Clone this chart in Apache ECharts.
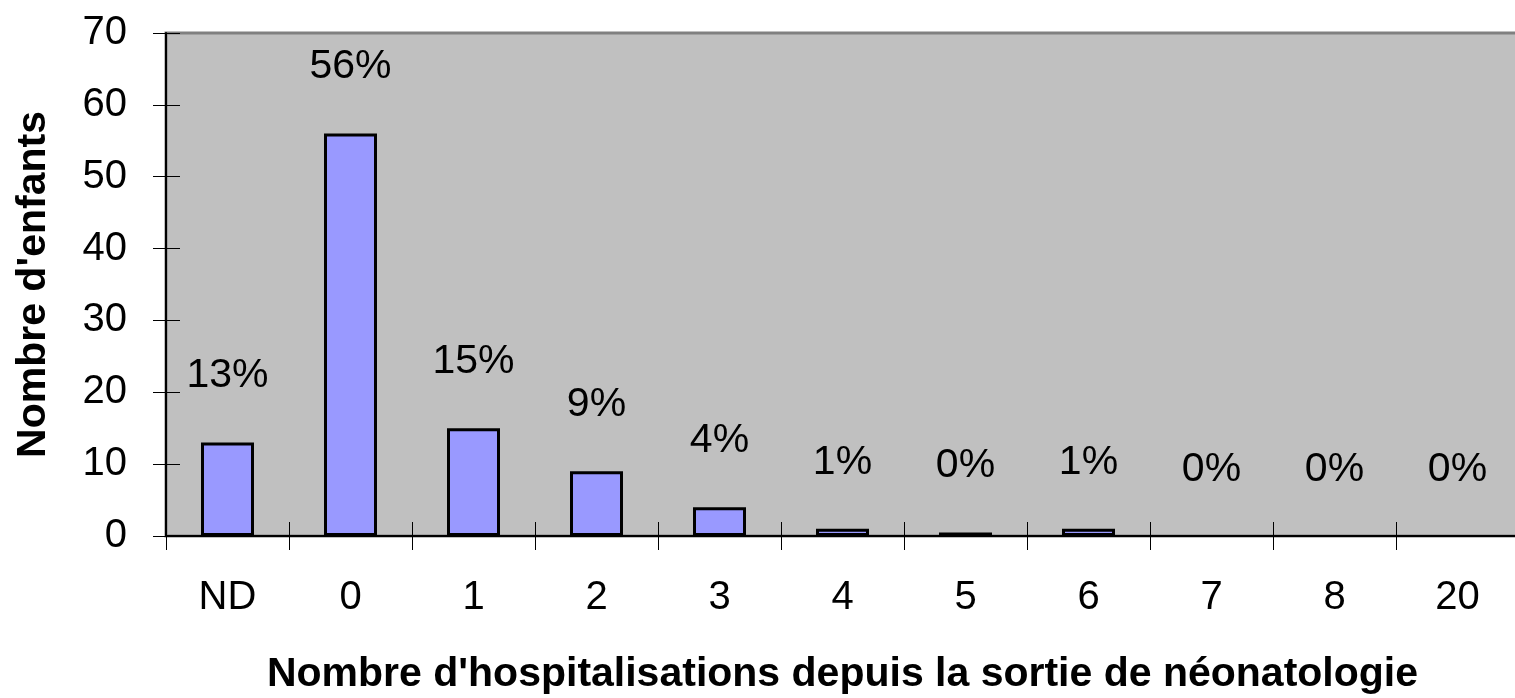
<!DOCTYPE html>
<html>
<head>
<meta charset="utf-8">
<script src="https://cdn.jsdelivr.net/npm/echarts@6/dist/echarts.min.js"></script>
<style>
html,body{margin:0;padding:0;background:#fff;}
#chart{width:1515px;height:698px;}
</style>
</head>
<body>
<div id="chart"></div>
<script>
const categories = ['ND','0','1','2','3','4','5','6','7','8','20'];
const values = [13, 56, 15, 9, 4, 1, 0.5, 1, 0, 0, 0];
const pctLabels = ['13%','56%','15%','9%','4%','1%','0%','1%','0%','0%','0%'];
const yMin = 0, yMax = 70, yInterval = 10;
const xTitle = "Nombre d'hospitalisations depuis la sortie de néonatologie";
const yTitle = "Nombre d'enfants";

const FONT = '"Liberation Sans", Arial, sans-serif';
const chart = echarts.init(document.getElementById('chart'), null, {renderer:'canvas'});

const seriesData = values.map(v => v === 0
  ? {value: v, itemStyle: {borderWidth: 0}}
  : {value: v});

chart.setOption({
  animation: false,
  backgroundColor: '#ffffff',
  grid: {
    left: 166, top: 33, width: 1353, height: 503,
    containLabel: false, outerBoundsMode: 'none',
    show: true, backgroundColor: '#c0c0c0', borderColor: '#808080', borderWidth: 3
  },
  xAxis: [{
    type: 'category', data: categories, position: 'bottom',
    axisLine: {show: true, lineStyle: {color: '#000', width: 2}},
    axisTick: {show: true, inside: false, length: 14, lineStyle: {color: '#000', width: 1}},
    axisLabel: {color: '#000', fontFamily: FONT, fontSize: 40, margin: 42},
    name: xTitle, nameLocation: 'middle', nameGap: 118,
    nameTextStyle: {color: '#000', fontFamily: FONT, fontSize: 41, fontWeight: 'bold'}
  }, {
    type: 'category', data: categories, position: 'bottom',
    axisLine: {show: false},
    axisTick: {show: true, inside: true, length: 14, lineStyle: {color: '#000', width: 1}},
    axisLabel: {show: false}
  }],
  yAxis: [{
    type: 'value', min: yMin, max: yMax, interval: yInterval, position: 'left',
    splitLine: {show: false},
    axisLine: {show: true, lineStyle: {color: '#000', width: 2}},
    axisTick: {show: true, inside: false, length: 13, lineStyle: {color: '#000', width: 1}},
    axisLabel: {color: '#000', fontFamily: FONT, fontSize: 40, margin: 39, padding: [0, 0, 6, 0]},
    name: yTitle, nameLocation: 'middle', nameGap: 112,
    nameTextStyle: {color: '#000', fontFamily: FONT, fontSize: 41, fontWeight: 'bold'}
  }, {
    type: 'value', min: yMin, max: yMax, interval: yInterval, position: 'left',
    splitLine: {show: false},
    axisLine: {show: false},
    axisTick: {show: true, inside: true, length: 14, lineStyle: {color: '#000', width: 1}},
    axisLabel: {show: false}
  }],
  series: [{
    type: 'bar', xAxisIndex: 0, yAxisIndex: 0,
    data: seriesData,
    barWidth: 53,
    itemStyle: {color: '#9999ff', borderColor: '#000', borderWidth: 3},
    label: {
      show: true, position: 'top', distance: 46,
      color: '#000', fontFamily: FONT, fontSize: 41,
      formatter: p => pctLabels[p.dataIndex]
    }
  }]
});
</script>
</body>
</html>
